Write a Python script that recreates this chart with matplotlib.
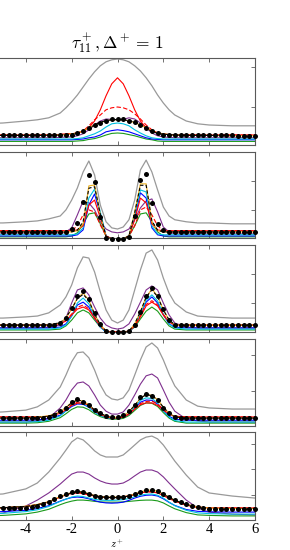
import numpy as np
import matplotlib
matplotlib.use("Agg")
import matplotlib.pyplot as plt

plt.rcParams['font.family'] = 'Liberation Serif'
plt.rcParams['mathtext.fontset'] = 'cm'
plt.rcParams['axes.unicode_minus'] = False

# abscissa of the lines and of the reference dots
z_line = [-6, -5, -4, -3.5, -3, -2.5, -2.25, -2, -1.75, -1.5, -1.25, -1, -0.75, -0.5, -0.25, 0,
          0.25, 0.5, 0.75, 1, 1.25, 1.5, 1.75, 2, 2.25, 2.5, 3, 3.5, 4, 5, 6]
z_dot = [-6, -5.75, -5.5, -5.25, -5, -4.75, -4.5, -4.25, -4, -3.75, -3.5, -3.25, -3, -2.75, -2.5, -2.25,
         -2, -1.75, -1.5, -1.25, -1, -0.75, -0.5, -0.25, 0, 0.25, 0.5, 0.75, 1, 1.25, 1.5, 1.75,
         2, 2.25, 2.5, 2.75, 3, 3.25, 3.5, 3.75, 4, 4.25, 4.5, 4.75, 5, 5.25, 5.5, 5.75, 6]
xtick_labels = ['', '-4', '-2', '0', '2', '4', '6']

# ---- panel 1
gray1 = [0.58,0.6,0.65,0.68,0.73,0.85,0.98,1.13,1.3,1.5,1.7,1.88,2.03,2.13,2.18,2.2,2.18,2.13,2.03,1.9,1.73,1.53,1.3,1.1,0.93,0.8,0.65,0.58,0.55,0.53,0.53]
red1 = [0.3,0.3,0.3,0.3,0.3,0.31,0.33,0.33,0.35,0.4,0.48,0.65,0.93,1.28,1.58,1.73,1.58,1.28,0.93,0.65,0.48,0.4,0.35,0.33,0.31,0.3,0.3,0.3,0.3,0.3,0.3]
reddash1 = [0.3,0.3,0.3,0.3,0.3,0.31,0.33,0.33,0.35,0.4,0.53,0.68,0.8,0.93,0.98,1.0,0.98,0.93,0.83,0.7,0.55,0.43,0.35,0.33,0.31,0.3,0.3,0.3,0.3,0.3,0.3]
purple1 = [0.23,0.23,0.23,0.23,0.23,0.24,0.25,0.25,0.28,0.33,0.43,0.55,0.65,0.7,0.69,0.68,0.69,0.73,0.7,0.6,0.48,0.35,0.28,0.25,0.24,0.23,0.23,0.23,0.23,0.23,0.23]
orange1 = [0.29,0.29,0.29,0.29,0.29,0.3,0.31,0.33,0.35,0.4,0.48,0.55,0.61,0.65,0.68,0.68,0.68,0.65,0.61,0.55,0.48,0.4,0.35,0.33,0.31,0.3,0.29,0.29,0.29,0.28,0.28]
kdash1 = [0.29,0.29,0.29,0.29,0.29,0.3,0.31,0.32,0.35,0.39,0.47,0.55,0.62,0.66,0.68,0.69,0.68,0.66,0.62,0.55,0.47,0.39,0.34,0.32,0.31,0.3,0.29,0.29,0.29,0.28,0.28]
cyan1 = [0.2,0.2,0.2,0.2,0.2,0.2,0.2,0.2,0.21,0.23,0.28,0.33,0.4,0.5,0.58,0.6,0.58,0.53,0.43,0.35,0.28,0.23,0.21,0.2,0.2,0.2,0.2,0.2,0.2,0.2,0.2]
blue1 = [0.18,0.18,0.18,0.18,0.18,0.18,0.18,0.18,0.19,0.2,0.23,0.25,0.3,0.38,0.41,0.43,0.41,0.38,0.33,0.28,0.23,0.2,0.19,0.18,0.18,0.18,0.18,0.18,0.18,0.18,0.18]
green1 = [0.14,0.14,0.14,0.14,0.14,0.14,0.14,0.14,0.15,0.16,0.19,0.21,0.25,0.3,0.34,0.35,0.34,0.31,0.28,0.24,0.2,0.18,0.15,0.14,0.14,0.14,0.14,0.14,0.14,0.14,0.14]
dots1 = [0.3,0.3,0.3,0.3,0.3,0.3,0.3,0.3,0.3,0.3,0.3,0.3,0.3,0.3,0.3,0.3,
         0.31,0.35,0.4,0.48,0.55,0.61,0.66,0.69,0.7,0.69,0.66,0.62,0.56,0.48,0.4,0.35,0.31,
         0.29,0.29,0.29,0.29,0.29,0.29,0.29,0.29,0.29,0.29,0.29,0.29,0.28,0.28,0.28,0.28]

# ---- panel 2
gray2 = [0.55,0.55,0.59,0.62,0.69,0.79,1.0,1.34,1.76,2.31,2.69,2.21,1.17,0.59,0.38,0.34,0.41,0.66,1.34,2.38,2.72,2.31,1.69,1.1,0.79,0.66,0.59,0.55,0.55,0.52,0.52]
red2 = [0.28,0.28,0.28,0.28,0.28,0.28,0.28,0.28,0.31,0.45,1.17,1.34,0.72,0.1,0.0,0.0,0.0,0.1,0.66,1.41,1.24,0.52,0.31,0.28,0.28,0.28,0.28,0.28,0.28,0.28,0.28]
reddash2 = [0.28,0.28,0.28,0.28,0.28,0.28,0.28,0.28,0.45,0.83,1.0,0.93,0.48,0.1,0.0,0.0,0.0,0.1,0.45,1.0,1.1,0.83,0.45,0.28,0.28,0.28,0.28,0.28,0.28,0.28,0.28]
purple2 = [0.17,0.17,0.17,0.17,0.17,0.17,0.24,0.38,0.83,1.31,1.24,1.0,0.59,0.34,0.24,0.21,0.24,0.34,0.66,1.07,1.31,1.38,0.93,0.41,0.24,0.17,0.17,0.17,0.17,0.17,0.17]
orange2 = [0.24,0.24,0.24,0.24,0.24,0.24,0.24,0.24,0.28,0.52,1.83,1.86,0.83,0.07,0.0,0.0,0.0,0.1,0.93,1.9,1.9,0.59,0.28,0.24,0.24,0.24,0.24,0.24,0.24,0.24,0.24]
kdash2 = [0.24,0.24,0.24,0.24,0.24,0.24,0.24,0.24,0.3,0.6,1.75,1.8,0.85,0.08,0.0,0.0,0.0,0.1,0.9,1.85,1.85,0.62,0.3,0.24,0.24,0.24,0.24,0.24,0.24,0.24,0.24]
cyan2 = [0.14,0.14,0.14,0.14,0.14,0.14,0.14,0.14,0.17,0.38,1.41,1.72,0.93,0.1,0.0,0.0,0.0,0.1,0.83,1.69,1.62,0.45,0.17,0.14,0.14,0.14,0.14,0.14,0.14,0.14,0.14]
blue2 = [0.1,0.1,0.1,0.1,0.1,0.1,0.1,0.1,0.14,0.31,1.17,1.55,0.86,0.1,0.0,0.0,0.0,0.1,0.72,1.59,1.41,0.38,0.14,0.1,0.1,0.1,0.1,0.1,0.1,0.1,0.1]
green2 = [0.07,0.07,0.07,0.07,0.07,0.07,0.07,0.1,0.21,0.52,0.86,0.9,0.52,0.1,0.0,0.0,0.0,0.1,0.45,0.86,0.9,0.59,0.24,0.1,0.07,0.07,0.07,0.07,0.07,0.07,0.07]
dots2 = [0.24,0.24,0.24,0.24,0.24,0.24,0.24,0.24,0.24,0.24,0.24,0.24,0.24,0.24,0.24,0.24,
         0.34,0.55,1.28,2.21,1.97,0.76,0.03,0.0,0.0,0.0,0.07,0.79,2.03,2.24,1.24,0.52,0.31,
         0.24,0.24,0.24,0.24,0.24,0.24,0.24,0.24,0.24,0.24,0.24,0.24,0.24,0.24,0.24,0.24]

# ---- panel 3
gray3 = [0.48,0.48,0.52,0.55,0.66,0.93,1.21,1.62,2.21,2.59,2.55,2.07,1.38,0.76,0.41,0.31,0.41,0.76,1.45,2.14,2.72,2.83,2.48,1.86,1.34,1.0,0.69,0.55,0.52,0.48,0.48]
red3 = [0.24,0.24,0.24,0.24,0.24,0.28,0.38,0.59,0.79,0.86,0.76,0.48,0.21,0.03,0.0,0.0,0.0,0.03,0.21,0.52,0.9,1.03,0.9,0.59,0.34,0.24,0.24,0.24,0.24,0.24,0.24]
reddash3 = [0.24,0.24,0.24,0.24,0.24,0.29,0.4,0.62,0.85,0.93,0.8,0.5,0.22,0.03,0.0,0.0,0.0,0.03,0.22,0.56,0.95,1.08,0.93,0.6,0.35,0.24,0.24,0.24,0.24,0.24,0.24]
purple3 = [0.14,0.14,0.14,0.14,0.17,0.24,0.48,1.0,1.45,1.52,1.28,0.86,0.48,0.24,0.14,0.1,0.14,0.28,0.62,1.03,1.45,1.59,1.45,1.0,0.59,0.31,0.17,0.14,0.14,0.14,0.14]
orange3 = [0.24,0.24,0.24,0.24,0.24,0.31,0.48,0.79,1.17,1.34,1.1,0.62,0.24,0.03,-0.03,-0.03,-0.03,0.03,0.28,0.69,1.21,1.48,1.24,0.76,0.41,0.24,0.24,0.24,0.24,0.24,0.24]
kdash3 = [0.24,0.24,0.24,0.24,0.25,0.32,0.5,0.8,1.15,1.3,1.08,0.62,0.25,0.03,-0.03,-0.03,-0.03,0.03,0.28,0.7,1.2,1.45,1.22,0.76,0.42,0.25,0.24,0.24,0.24,0.24,0.24]
cyan3 = [0.1,0.1,0.1,0.1,0.1,0.14,0.24,0.55,1.0,1.17,0.97,0.52,0.17,0.0,-0.03,-0.03,-0.03,0.0,0.21,0.62,1.1,1.28,1.07,0.62,0.28,0.14,0.1,0.1,0.1,0.1,0.1]
blue3 = [0.14,0.14,0.14,0.14,0.14,0.17,0.28,0.55,0.93,1.03,0.86,0.48,0.17,0.0,-0.03,-0.03,-0.03,0.0,0.21,0.59,1.03,1.21,1.0,0.59,0.28,0.17,0.14,0.14,0.14,0.14,0.14]
green3 = [0.07,0.07,0.07,0.07,0.07,0.1,0.21,0.41,0.66,0.76,0.66,0.41,0.17,0.03,0.0,0.0,0.0,0.03,0.17,0.45,0.72,0.86,0.72,0.45,0.21,0.1,0.07,0.07,0.07,0.07,0.07]
dots3 = [0.24,0.24,0.24,0.24,0.24,0.24,0.24,0.24,0.24,0.24,0.24,0.24,0.24,0.24,
         0.31,0.48,0.83,1.24,1.41,1.14,0.66,0.28,0.03,0.0,0.0,0.0,0.03,0.24,0.69,1.24,1.52,1.24,0.79,0.41,0.24,
         0.24,0.24,0.24,0.24,0.24,0.24,0.24,0.24,0.24,0.24,0.24,0.24,0.24,0.24]

# ---- panel 4
gray4 = [0.39,0.42,0.47,0.56,0.75,1.11,1.44,1.81,2.06,2.08,1.92,1.58,1.17,0.89,0.78,0.75,0.81,1.03,1.44,1.86,2.22,2.33,2.19,1.86,1.47,1.14,0.75,0.58,0.53,0.5,0.5]
red4 = [0.28,0.28,0.28,0.28,0.3,0.38,0.48,0.6,0.66,0.67,0.6,0.45,0.35,0.28,0.25,0.25,0.27,0.36,0.5,0.62,0.67,0.67,0.6,0.47,0.36,0.3,0.28,0.28,0.28,0.28,0.28]
reddash4 = [0.28,0.28,0.28,0.28,0.3,0.39,0.5,0.62,0.69,0.7,0.62,0.47,0.36,0.29,0.26,0.26,0.28,0.37,0.52,0.65,0.71,0.72,0.64,0.49,0.37,0.3,0.28,0.28,0.28,0.28,0.28]
purple4 = [0.14,0.14,0.14,0.17,0.25,0.53,0.75,1.03,1.22,1.25,1.14,0.89,0.61,0.44,0.36,0.36,0.42,0.61,0.89,1.19,1.42,1.47,1.36,1.03,0.69,0.44,0.22,0.17,0.14,0.14,0.14]
orange4 = [0.25,0.25,0.25,0.28,0.31,0.42,0.55,0.68,0.75,0.72,0.62,0.47,0.38,0.31,0.27,0.27,0.31,0.42,0.6,0.8,0.9,0.88,0.76,0.55,0.39,0.28,0.25,0.25,0.25,0.25,0.25]
kdash4 = [0.25,0.25,0.25,0.27,0.3,0.41,0.54,0.67,0.75,0.72,0.62,0.47,0.38,0.31,0.28,0.28,0.32,0.43,0.6,0.8,0.9,0.87,0.75,0.55,0.38,0.28,0.25,0.25,0.25,0.25,0.25]
cyan4 = [0.14,0.14,0.14,0.15,0.19,0.31,0.45,0.6,0.67,0.65,0.55,0.41,0.32,0.26,0.24,0.24,0.27,0.37,0.55,0.74,0.81,0.79,0.67,0.45,0.28,0.18,0.14,0.14,0.14,0.14,0.14]
blue4 = [0.19,0.19,0.19,0.2,0.23,0.33,0.45,0.57,0.64,0.63,0.55,0.42,0.33,0.27,0.25,0.25,0.27,0.36,0.52,0.69,0.75,0.74,0.64,0.45,0.3,0.22,0.19,0.19,0.19,0.19,0.19]
green4 = [0.11,0.11,0.11,0.12,0.16,0.26,0.37,0.49,0.56,0.55,0.48,0.37,0.29,0.24,0.22,0.22,0.24,0.32,0.46,0.6,0.67,0.66,0.57,0.4,0.25,0.16,0.11,0.11,0.11,0.11,0.11]
dots4 = [0.25,0.25,0.25,0.25,0.25,0.25,0.25,0.25,0.25,0.25,0.25,0.25,
         0.28,0.33,0.44,0.53,0.69,0.78,0.69,0.61,0.47,0.39,0.31,0.28,0.28,0.33,0.44,0.61,0.83,0.92,0.86,0.75,0.53,0.39,0.28,0.25,
         0.25,0.25,0.25,0.25,0.25,0.25,0.25,0.25,0.25,0.25,0.25,0.25,0.25]

# ---- panel 5
gray5 = [1.0,1.04,1.24,1.47,1.9,2.45,2.76,3.08,3.24,3.16,2.96,2.73,2.57,2.49,2.49,2.49,2.57,2.76,2.96,3.16,3.27,3.31,3.2,2.96,2.65,2.33,1.78,1.31,1.08,0.96,0.88]
red5 = [0.49,0.5,0.55,0.62,0.72,0.92,1.0,1.06,1.08,1.06,1.0,0.96,0.92,0.9,0.9,0.9,0.92,0.96,1.02,1.08,1.12,1.12,1.08,0.98,0.86,0.76,0.6,0.52,0.5,0.49,0.49]
reddash5 = [0.49,0.5,0.55,0.62,0.73,0.93,1.01,1.08,1.1,1.08,1.02,0.97,0.93,0.91,0.9,0.91,0.93,0.97,1.03,1.09,1.13,1.13,1.09,0.99,0.87,0.77,0.61,0.52,0.5,0.49,0.49]
purple5 = [0.22,0.29,0.57,0.8,1.08,1.43,1.63,1.82,1.9,1.9,1.82,1.67,1.55,1.47,1.43,1.43,1.47,1.59,1.75,1.9,1.98,1.98,1.9,1.71,1.47,1.24,0.8,0.49,0.33,0.25,0.22]
orange5 = [0.48,0.5,0.56,0.63,0.74,0.94,1.02,1.1,1.14,1.12,1.05,0.98,0.94,0.92,0.92,0.92,0.93,0.97,1.04,1.12,1.18,1.19,1.15,1.04,0.92,0.8,0.64,0.53,0.49,0.47,0.47]
kdash5 = [0.48,0.5,0.55,0.62,0.73,0.93,1.01,1.09,1.13,1.11,1.04,0.97,0.93,0.91,0.9,0.9,0.92,0.96,1.03,1.11,1.17,1.18,1.14,1.03,0.91,0.79,0.63,0.52,0.48,0.47,0.47]
cyan5 = [0.25,0.28,0.35,0.42,0.55,0.75,0.84,0.92,0.96,0.94,0.88,0.83,0.8,0.79,0.79,0.8,0.82,0.86,0.93,0.99,1.03,1.04,0.99,0.88,0.72,0.58,0.4,0.3,0.27,0.25,0.25]
blue5 = [0.33,0.35,0.4,0.47,0.58,0.76,0.84,0.9,0.92,0.9,0.85,0.78,0.72,0.69,0.68,0.69,0.72,0.79,0.88,0.95,0.99,1.0,0.96,0.85,0.71,0.59,0.43,0.36,0.34,0.33,0.33]
green5 = [0.18,0.2,0.26,0.33,0.44,0.62,0.7,0.76,0.8,0.8,0.78,0.75,0.73,0.72,0.72,0.72,0.73,0.75,0.77,0.79,0.8,0.8,0.77,0.69,0.57,0.46,0.31,0.22,0.2,0.18,0.18]
dots5 = [0.49,0.49,0.49,0.49,0.49,0.49,0.49,0.49,0.49,
         0.53,0.57,0.65,0.73,0.84,0.96,1.04,1.12,1.16,1.12,1.04,0.98,0.94,0.92,0.92,0.92,0.92,0.96,1.04,1.12,1.2,1.2,1.16,1.04,0.92,0.8,0.73,0.65,0.57,0.53,0.49,
         0.47,0.47,0.47,0.47,0.47,0.47,0.47,0.47,0.47]

panels = [
    (gray1, purple1, green1, blue1, cyan1, reddash1, red1, orange1, kdash1, dots1),
    (gray2, purple2, green2, blue2, cyan2, reddash2, red2, orange2, kdash2, dots2),
    (gray3, purple3, green3, blue3, cyan3, reddash3, red3, orange3, kdash3, dots3),
    (gray4, purple4, green4, blue4, cyan4, reddash4, red4, orange4, kdash4, dots4),
    (gray5, purple5, green5, blue5, cyan5, reddash5, red5, orange5, kdash5, dots5),
]
ylims = [(0.05, 2.225), (0.03, 3.0), (0.0, 3.0), (0.03, 2.44), (0.02, 3.47)]
yticks = [[1, 2], [1, 2, 3], [1, 2], [1, 2], [1, 2, 3]]

W, H = 290, 550
rows = [(58, 145), (152, 238), (245, 332), (339, 426), (432, 520)]

fig = plt.figure(figsize=(W / 100, H / 100), dpi=100)

for k, (top, bot) in enumerate(rows):
    ax = fig.add_axes([-20 / W, 1 - bot / H, 275 / W, (bot - top) / H])
    g, pu, gr, bl, cy, rd, r, o, kd, d = panels[k]
    lw = 0.8
    ax.plot(z_line, g, color='#999999', lw=0.9)
    ax.plot(z_line, pu, color='#7e2f8e', lw=lw)
    ax.plot(z_line, gr, color='#1a9a1a', lw=lw)
    ax.plot(z_line, bl, color='#0000ff', lw=lw)
    ax.plot(z_line, cy, color='#00bfdf', lw=lw)
    ax.plot(z_line, rd, color='#ff0000', lw=lw, dashes=(4, 2))
    ax.plot(z_line, r, color='#ff0000', lw=lw)
    ax.plot(z_line, o, color='#edb120', lw=lw)
    ax.plot(z_line, kd, color='k', lw=lw, dashes=(3, 2))
    ax.plot(z_dot, d, 'o', color='k', ms=3.6, mew=0, clip_on=False, zorder=5)

    ax.set_xlim(-6, 6)
    ax.set_ylim(*ylims[k])
    ax.set_xticks([-6, -4, -2, 0, 2, 4, 6])
    ax.set_yticks(yticks[k])
    ax.tick_params(direction='in', top=True, right=True, length=3, width=0.6,
                   color='0.35', labelsize=10.5, pad=2.5, labelleft=False)
    for s in ax.spines.values():
        s.set_color('0.35')
        s.set_linewidth(0.8)
    if k == 0:
        ax.set_title(r'$\tau^+_{11}, \Delta^+ = \,1$', fontsize=12.5, pad=7)
    if k < 4:
        ax.tick_params(labelbottom=False)
    else:
        ax.set_xticklabels(xtick_labels)
        ax.set_xlabel(r'$z^+$', fontsize=7.5, va='bottom')
        ax.xaxis.set_label_coords(0.5, -29.8 / (bot - top))

fig.savefig('out.png', dpi=100)
